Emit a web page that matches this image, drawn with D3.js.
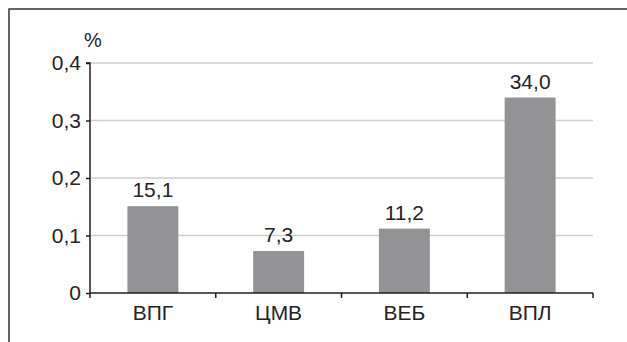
<!DOCTYPE html>
<html>
<head>
<meta charset="utf-8">
<script src="https://cdn.jsdelivr.net/npm/d3@7"></script>
<style>
  html, body { margin: 0; padding: 0; background: #fff; }
  svg { display: block; }
  text { font-family: "Liberation Sans", Arial, sans-serif; fill: #262324; }
</style>
</head>
<body>
<svg id="chart" width="627" height="342"></svg>
<script>
// Categories and values (labels show percent, axis in fractions of a percent)
const categories = ["ВПГ", "ЦМВ", "ВЕБ", "ВПЛ"];
const labelValues = [15.1, 7.3, 11.2, 34.0];
const yTicks = [0, 0.1, 0.2, 0.3, 0.4];
const yTickLabels = ["0", "0,1", "0,2", "0,3", "0,4"];

const barValues = labelValues.map(v => v / 100);

const svg = d3.select("#chart");
const margin = { left: 90, right: 34, top: 63, bottom: 49 };
const W = 627, H = 342;
const FS = 21;

// Frame lines (top and left)
svg.append("path")
  .attr("d", `M9,${H} L9,9 L${W},9`)
  .attr("fill", "none")
  .attr("stroke", "#333")
  .attr("stroke-width", 1.5);

const x = d3.scaleBand()
  .domain(categories)
  .range([margin.left, W - margin.right])
  .paddingInner(0.595)
  .paddingOuter(0.2975);

const y = d3.scaleLinear()
  .domain([0, 0.4])
  .range([H - margin.bottom, margin.top]);

// Gridlines
svg.append("g")
  .selectAll("line")
  .data(yTicks.filter(t => t > 0))
  .join("line")
  .attr("x1", margin.left)
  .attr("x2", W - margin.right)
  .attr("y1", d => y(d))
  .attr("y2", d => y(d))
  .attr("stroke", "#cfcfcf")
  .attr("stroke-width", 1.5);

// Bars
svg.append("g")
  .selectAll("rect")
  .data(categories)
  .join("rect")
  .attr("x", d => x(d))
  .attr("width", x.bandwidth())
  .attr("y", (d, i) => y(barValues[i]))
  .attr("height", (d, i) => y(0) - y(barValues[i]))
  .attr("fill", "#939396");

// Value labels
svg.append("g")
  .selectAll("text")
  .data(categories)
  .join("text")
  .attr("x", d => x(d) + x.bandwidth() / 2)
  .attr("y", (d, i) => y(barValues[i]) - 9)
  .attr("text-anchor", "middle")
  .attr("font-size", FS)
  .text((d, i) => labelValues[i].toFixed(1).replace(".", ","));

// Y axis
const yAxis = d3.axisLeft(y)
  .tickValues(yTicks)
  .tickFormat((d, i) => yTickLabels[i])
  .tickSize(4)
  .tickPadding(5);
const gy = svg.append("g")
  .attr("transform", `translate(${margin.left},0)`)
  .call(yAxis);
gy.select(".domain").attr("stroke", "#231f20").attr("stroke-width", 1.5)
  .attr("d", `M-4,${y(0.4)}H0V${y(0)}`);
gy.selectAll(".tick line").attr("stroke", "#231f20").attr("stroke-width", 1.5);
gy.selectAll(".tick text").attr("font-size", FS).attr("font-family", null).attr("fill", null);

// X axis with boundary ticks between categories
const gx = svg.append("g")
  .attr("transform", `translate(0,${y(0)})`);
gx.append("line")
  .attr("x1", margin.left).attr("x2", W - margin.right)
  .attr("stroke", "#231f20").attr("stroke-width", 1.5);
const step = x.step();
const bounds = d3.range(categories.length + 1).map(i => margin.left + i * step);
gx.selectAll(".bt")
  .data(bounds)
  .join("line")
  .attr("x1", d => d).attr("x2", d => d)
  .attr("y1", 0).attr("y2", 5)
  .attr("stroke", "#231f20").attr("stroke-width", 1.5);
gx.selectAll(".cl")
  .data(categories)
  .join("text")
  .attr("x", d => x(d) + x.bandwidth() / 2)
  .attr("y", 27)
  .attr("text-anchor", "middle")
  .attr("font-size", FS)
  .text(d => d);

// Unit label
svg.append("text")
  .attr("x", 93)
  .attr("y", 47)
  .attr("text-anchor", "middle")
  .attr("font-size", 20)
  .text("%");
</script>
</body>
</html>
